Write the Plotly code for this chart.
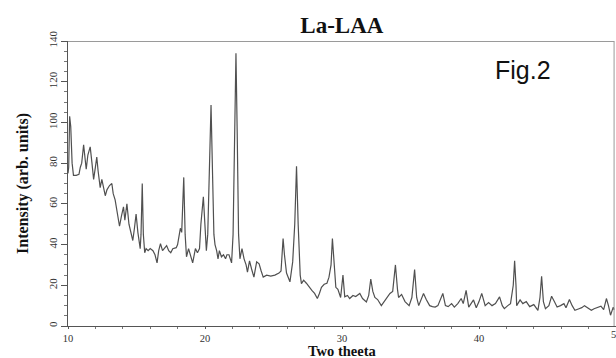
import plotly.graph_objects as go

two_theta = [10.0, 10.05, 10.12, 10.2, 10.3, 10.4, 10.6, 10.8, 10.9, 11.0, 11.14, 11.25, 11.33, 11.45, 11.62,
             11.75, 11.87, 12.0, 12.1, 12.2, 12.35, 12.47, 12.6, 12.72, 12.85, 13.03, 13.2, 13.3, 13.44, 13.6,
             13.76, 13.9, 14.05, 14.15, 14.3, 14.45, 14.6, 14.73, 14.85, 14.97, 15.1, 15.2, 15.27, 15.33, 15.42,
             15.5, 15.6, 15.7, 15.85, 16.0, 16.2, 16.35, 16.5, 16.62, 16.75, 16.9, 17.05, 17.2, 17.35, 17.5,
             17.65, 17.9, 18.0, 18.1, 18.2, 18.3, 18.45, 18.55, 18.65, 18.8, 18.95, 19.1, 19.3, 19.45, 19.6,
             19.7, 19.88, 20.0, 20.1, 20.2, 20.3, 20.44, 20.55, 20.65, 20.73, 20.85, 20.95, 21.05, 21.2, 21.35,
             21.5, 21.6, 21.75, 21.85, 21.94, 22.05, 22.15, 22.26, 22.35, 22.45, 22.55, 22.7, 22.85, 23.0, 23.1,
             23.25, 23.4, 23.57, 23.77, 23.95, 24.1, 24.25, 24.5, 24.8, 25.1, 25.4, 25.55, 25.7, 25.8, 25.95,
             26.2, 26.4, 26.55, 26.68, 26.8, 26.95, 27.04, 27.2, 27.4, 27.6, 27.8, 28.0, 28.2, 28.35, 28.5,
             28.7, 28.9, 29.05, 29.2, 29.3, 29.4, 29.55, 29.7, 29.9, 30.07, 30.2, 30.4, 30.56, 30.8, 31.0,
             31.3, 31.5, 31.78, 31.95, 32.1, 32.25, 32.4, 32.6, 32.87, 33.1, 33.3, 33.5, 33.7, 33.9, 34.05,
             34.13, 34.35, 34.6, 34.9, 35.1, 35.3, 35.45, 35.6, 35.8, 35.95, 36.15, 36.4, 36.6, 36.8, 37.0,
             37.2, 37.36, 37.55, 37.75, 38.0, 38.2, 38.45, 38.7, 38.85, 39.06, 39.25, 39.45, 39.6, 39.8, 40.0,
             40.2, 40.45, 40.7, 40.95, 41.2, 41.5, 41.7, 41.85, 42.1, 42.3, 42.5, 42.6, 42.7, 42.75, 43.0,
             43.2, 43.45, 43.7, 44.0, 44.3, 44.45, 44.57, 44.7, 44.85, 45.1, 45.3, 45.5, 45.7, 45.95, 46.2,
             46.35, 46.6, 46.8, 47.0, 47.3, 47.5, 47.7, 47.95, 48.2, 48.4, 48.7, 48.9, 49.1, 49.3, 49.45,
             49.6, 49.8, 49.86]

intensity = [75, 78, 103, 98, 80, 74, 74, 74.5, 78, 80, 89, 82, 77, 84, 88,
             80, 72, 78, 83, 76, 68, 72, 68, 64, 67, 69, 70, 65, 62, 55,
             49, 54, 58.5, 52, 60, 50, 45, 42, 48, 55, 46, 40, 38, 45, 70,
             45, 36, 38, 37, 38, 37, 35, 31, 37, 40.5, 37, 38, 39.5, 37, 36,
             38, 38.5, 40, 44, 48, 46, 73, 45, 34, 38, 34, 31, 38, 36, 38,
             50, 63.5, 50, 37, 45, 70, 108.5, 75, 45, 40, 37, 33, 37, 34, 35,
             33, 35, 35, 33, 31, 45, 90, 134, 95, 45, 33, 38, 33, 30, 26.5,
             32, 28, 24, 31.5, 30.5, 27, 24, 25, 24.5, 25, 26, 27, 43, 35, 26,
             21.7, 31.5, 50, 78.5, 50, 25, 20.8, 22.5, 21, 19, 17.5, 16, 13.5, 16, 19,
             20.5, 21, 24, 30, 43, 35, 19, 18, 14, 25, 14.3, 15, 13.5, 15, 14.5,
             16, 13.5, 11.8, 15, 23, 17, 14, 13, 10, 12, 14, 16, 17, 30, 18,
             14, 15.5, 12, 10, 14, 27.7, 14, 10, 14, 16, 13, 10, 9.5, 9.3, 10,
             13, 16, 10, 9.5, 11, 9.3, 11, 13.5, 11, 17.5, 9.3, 11.5, 12.8, 9, 12,
             16, 10, 11.5, 10, 11, 14.3, 10, 8.5, 10, 11, 20, 32, 20, 10, 12.8,
             11, 12, 9.5, 10.5, 7.7, 14, 24.4, 12, 8.5, 10, 14.6, 12, 9.3, 10, 11,
             9, 13, 10, 7.7, 8.5, 9, 10, 9, 7.7, 8.5, 9, 9.7, 8, 13.5, 10,
             5.3, 9.3, 8]

x_ticks = [10, 20, 30, 40]
x_tick_cut = "50"
y_ticks = [0, 20, 40, 60, 80, 100, 120, 140]

serif = "Liberation Serif, Times New Roman, serif"

fig = go.Figure()
fig.add_trace(go.Scatter(x=two_theta, y=intensity, mode="lines",
                         line=dict(color="#505050", width=1.2), showlegend=False))

fig.update_layout(
    width=616, height=358,
    margin=dict(l=68, r=0, t=41, b=32),
    paper_bgcolor="white", plot_bgcolor="white",
    title=dict(text="<b>La-LAA</b>", x=0.555, xanchor="center", y=0.93, yanchor="middle",
               font=dict(family=serif, size=23, color="#111")),
    xaxis=dict(range=[10, 50], tickvals=x_ticks, ticks="outside", ticklen=2, tickcolor="#555",
               showline=True, linecolor="#555", linewidth=1, showgrid=False, zeroline=False,
               minor=dict(dtick=2, ticks="outside", ticklen=2, tickcolor="#777"),
               tickfont=dict(family=serif, size=10.5, color="#333")),
    yaxis=dict(range=[0, 140], tickvals=y_ticks, ticks="outside", ticklen=6, tickcolor="#555",
               showline=True, linecolor="#555", linewidth=1, showgrid=False, zeroline=False,
               tickangle=-90,
               minor=dict(dtick=5, ticks="outside", ticklen=3, tickcolor="#777"),
               tickfont=dict(family=serif, size=11, color="#333"),
               title=dict(text="<b>Intensity (arb. units)</b>", font=dict(family=serif, size=16, color="#111"),
                          standoff=13)),
    shapes=[
        dict(type="line", xref="x", yref="y", x0=10, x1=49.86, y0=140, y1=140,
             line=dict(color="#9a9a9a", width=2)),
        dict(type="line", xref="x", yref="y", x0=49.86, x1=49.86, y0=0, y1=140,
             line=dict(color="#9a9a9a", width=1)),
    ],
    annotations=[
        dict(text="Fig.2", xref="paper", yref="paper", x=0.83, y=0.9, xanchor="center", yanchor="middle",
             showarrow=False, font=dict(family="Liberation Sans, Arial, sans-serif", size=25, color="#111")),
        dict(text="<b>Two theeta</b>", xref="paper", yref="paper", x=0.5, y=-0.0885, xanchor="center",
             yanchor="middle", showarrow=False, font=dict(family=serif, size=14.5, color="#111")),
        dict(text=x_tick_cut, xref="x", yref="paper", x=50, y=-0.03, xanchor="center", yanchor="middle",
             showarrow=False, font=dict(family=serif, size=10.5, color="#333")),
    ],
)

fig.write_html("out.html")
